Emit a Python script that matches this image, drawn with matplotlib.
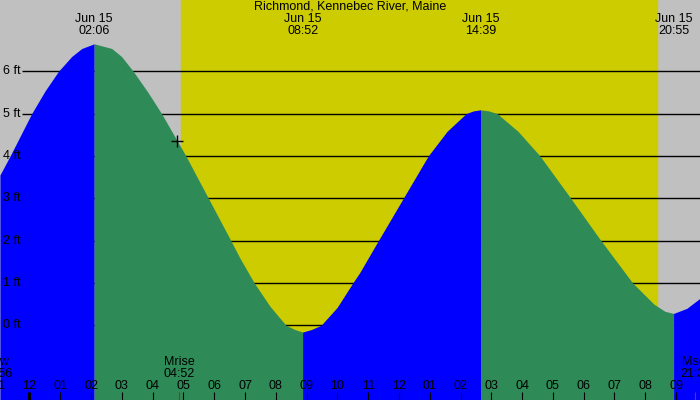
import matplotlib.pyplot as plt

# tide heights (hours since midnight Jun 15, feet)
hours = [-0.96, -0.63, 0.07, 0.50, 0.94, 1.37, 1.70, 2.10, 2.67, 2.99, 3.37,
         3.85, 4.29, 4.78, 5.08, 5.81, 6.54, 6.84, 7.30, 7.81, 8.33, 8.62,
         8.87, 9.16, 9.47, 9.99, 10.50, 10.73, 11.33, 12.14, 12.95, 13.56,
         14.18, 14.42, 14.65, 14.92, 15.19, 15.87, 16.58, 17.58, 18.53, 19.59,
         20.28, 20.64, 20.92, 21.35, 21.78]
feet = [3.55, 4.0, 5.0, 5.53, 6.0, 6.35, 6.54, 6.65, 6.54, 6.35, 6.0,
        5.5, 5.0, 4.38, 4.0, 3.0, 2.0, 1.58, 1.0, 0.45, 0.0, -0.10,
        -0.16, -0.10, 0.0, 0.42, 1.0, 1.25, 2.0, 3.0, 4.0, 4.58,
        5.0, 5.065, 5.09, 5.065, 5.0, 4.58, 4.0, 3.0, 2.03, 1.0,
        0.50, 0.33, 0.28, 0.40, 0.64]

# high / low tides
ext_hours = [2.10, 8.87, 14.65, 20.92]
ext_labels = ['02:06', '08:52', '14:39', '20:55']

sunrise, sunset = 4.92, 20.38
mrise, mset = 4.87, 21.63
new_moon = -1.07

title = 'Richmond, Kennebec River, Maine'
ft_levels = [0, 1, 2, 3, 4, 5, 6]

x0, x1 = -0.958, 21.778
y0, y1 = -1.765, 7.685

fig = plt.figure(figsize=(7, 4), dpi=100)
ax = fig.add_axes([0, 0, 1, 1])
ax.set_xlim(x0, x1)
ax.set_ylim(y0, y1)
ax.axis('off')
plt.rcParams['font.family'] = ['Liberation Sans', 'DejaVu Sans']
fs = 9

ax.axvspan(x0, x1, color='#c0c0c0', zorder=0)
ax.axvspan(sunrise, sunset, color='#cccc00', zorder=1)
ax.hlines(ft_levels, -0.24, x1, color='black', lw=1.0, zorder=2)

# rising = blue, falling = green
bounds = [float('-inf')] + ext_hours + [float('inf')]
colors = ['#0000ff', '#2e8b57', '#0000ff', '#2e8b57', '#0000ff']
for a, b, c in zip(bounds[:-1], bounds[1:], colors):
    seg = [(t, f) for t, f in zip(hours, feet) if a <= t <= b]
    ts = [s[0] for s in seg]
    fv = [s[1] for s in seg]
    ax.fill_between(ts, fv, y0, color=c, lw=0, zorder=3)

ax.plot([mrise - 0.07], [4.35], marker='+', color='black', ms=8, mew=1, zorder=5)

for v in ft_levels:
    ax.text(-0.86, v, f'{v} ft', fontsize=fs, va='center', ha='left', zorder=6)

tr = ax.get_xaxis_transform()
ax.text(0.5, 0.983, title, transform=ax.transAxes, ha='center', va='center', fontsize=fs, zorder=6)
for t, lab in zip(ext_hours, ext_labels):
    ax.text(t, 0.953, 'Jun 15', transform=tr, ha='center', va='center', fontsize=fs, zorder=6)
    ax.text(t, 0.923, lab, transform=tr, ha='center', va='center', fontsize=fs, zorder=6)

# hour axis along the bottom
for h in range(-1, 23):
    lab = '%02d' % (h % 12 if h % 12 else 12)
    ax.text(h, 0.035, lab, transform=tr, ha='center', va='center', fontsize=fs, zorder=6, clip_on=True)
    ax.plot([h, h], [0, 0.02], transform=tr, color='black', lw=2.2 if h == 0 else 0.8,
            solid_capstyle='butt', zorder=6)

for t, name, tm, col in [(mrise, 'Mrise', '04:52', 'red'), (mset, 'Mset', '21:38', 'red'),
                         (new_moon, 'New', '22:56', None)]:
    ax.text(t, 0.096, name, transform=tr, ha='center', va='center', fontsize=fs, zorder=6, clip_on=True)
    ax.text(t, 0.065, tm, transform=tr, ha='center', va='center', fontsize=fs, zorder=6, clip_on=True)
    if col:
        ax.plot([t, t], [0, 0.02], transform=tr, color=col, lw=0.8, solid_capstyle='butt', zorder=6)

fig.savefig('out.png', dpi=100)
